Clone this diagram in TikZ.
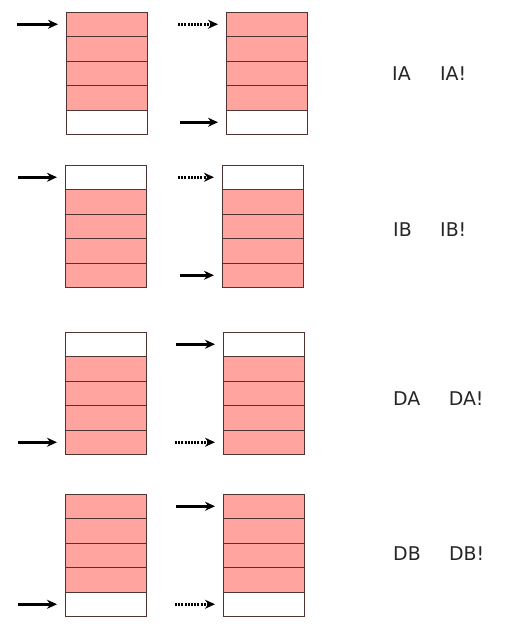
\documentclass[tikz,border=0pt]{standalone}
\usepackage{fontspec}
\setmainfont{DejaVu Sans}
\usepackage{tikz}
\usetikzlibrary{positioning,arrows.meta}

\definecolor{cellpink}{RGB}{255,164,158}
\definecolor{celledge}{RGB}{80,52,52}

\tikzset{
  cell/.style={draw=celledge, line width=0.8bp, minimum width=81bp,
    minimum height=24.5bp, inner sep=0pt, outer sep=0pt},
  full/.style={cell, fill=cellpink},
  free/.style={cell, fill=white},
  ptr/.style={line width=3bp, -{Stealth[length=10bp,width=9bp]}, shorten >=8bp},
  nextptr/.style={ptr, dash pattern=on 2bp off 1.2bp},
  lbl/.style={inner sep=0pt, text=black!85, font=\fontsize{19}{21}\selectfont},
}

% name, left x, top y, cell styles
\newcommand{\memstack}[4]{%
  \foreach \k/\s in {#4}
    \node[\s] (#1\k) at ({#2+40.5},{#3+24.5*\k-12.25}) {};
}

\begin{document}
\begin{tikzpicture}[x=1bp,y=-1bp]
    \useasboundingbox (0,0) rectangle (510,635);

    % IA
    \memstack{iaPre}{66}{12}{1/full,2/full,3/full,4/full,5/free}
    \memstack{iaPost}{226}{12}{1/full,2/full,3/full,4/full,5/free}
    \coordinate[left=49bp of iaPre1] (iaIn);
    \coordinate[left=48bp of iaPost1] (iaOld);
    \coordinate[left=46bp of iaPost5] (iaNew);
    \draw[ptr] (iaIn) -- (iaPre1);
    \draw[nextptr] (iaOld) -- (iaPost1);
    \draw[ptr] (iaNew) -- (iaPost5);
    \node[lbl, anchor=west] (iaLbl) at (392,74) {IA};
    \node[lbl, right=29bp of iaLbl] (iaBangLbl) {IA!};

    % IB
    \memstack{ibPre}{65}{165}{1/free,2/full,3/full,4/full,5/full}
    \memstack{ibPost}{222}{165}{1/free,2/full,3/full,4/full,5/full}
    \coordinate[left=47bp of ibPre1] (ibIn);
    \coordinate[left=44bp of ibPost1] (ibOld);
    \coordinate[left=42bp of ibPost5] (ibNew);
    \draw[ptr] (ibIn) -- (ibPre1);
    \draw[nextptr] (ibOld) -- (ibPost1);
    \draw[ptr] (ibNew) -- (ibPost5);
    \node[lbl, anchor=west] (ibLbl) at (393,230) {IB};
    \node[lbl, right=28bp of ibLbl] (ibBangLbl) {IB!};

    % DA
    \memstack{daPre}{65}{332}{1/free,2/full,3/full,4/full,5/full}
    \memstack{daPost}{223}{332}{1/free,2/full,3/full,4/full,5/full}
    \coordinate[left=47bp of daPre5] (daIn);
    \coordinate[left=47bp of daPost1] (daNew);
    \coordinate[left=48bp of daPost5] (daOld);
    \draw[ptr] (daIn) -- (daPre5);
    \draw[ptr] (daNew) -- (daPost1);
    \draw[nextptr] (daOld) -- (daPost5);
    \node[lbl, anchor=west] (daLbl) at (393,399) {DA};
    \node[lbl, right=28bp of daLbl] (daBangLbl) {DA!};

    % DB
    \memstack{dbPre}{65}{494}{1/full,2/full,3/full,4/full,5/free}
    \memstack{dbPost}{223}{494}{1/full,2/full,3/full,4/full,5/free}
    \coordinate[left=47bp of dbPre5] (dbIn);
    \coordinate[left=47bp of dbPost1] (dbNew);
    \coordinate[left=48bp of dbPost5] (dbOld);
    \draw[ptr] (dbIn) -- (dbPre5);
    \draw[ptr] (dbNew) -- (dbPost1);
    \draw[nextptr] (dbOld) -- (dbPost5);
    \node[lbl, anchor=west] (dbLbl) at (393,554) {DB};
    \node[lbl, right=28bp of dbLbl] (dbBangLbl) {DB!};
  \end{tikzpicture}
\end{document}
